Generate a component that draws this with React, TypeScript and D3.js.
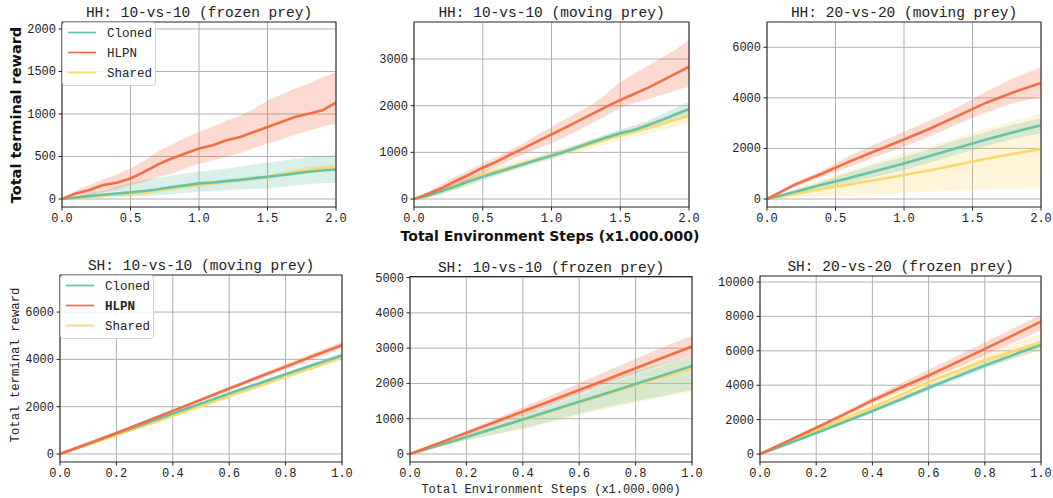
import React from 'react';
import * as d3 from 'd3';

// x samples (millions of environment steps)
const hhFrozenX = [0, 0.1, 0.2, 0.3, 0.4, 0.5, 0.6, 0.7, 0.8, 0.9, 1.0, 1.1, 1.2, 1.3, 1.4, 1.5, 1.6, 1.7, 1.8, 1.9, 2.0];
const hhMovingX = [0, 0.1, 0.2, 0.3, 0.4, 0.5, 0.6, 0.7, 0.8, 0.9, 1.0, 1.1, 1.2, 1.3, 1.4, 1.5, 1.6, 1.7, 1.8, 1.9, 2.0];
const hh20X = [0, 0.2, 0.4, 0.6, 0.8, 1.0, 1.2, 1.4, 1.6, 1.8, 2.0];
const shX = [0, 0.1, 0.2, 0.3, 0.4, 0.5, 0.6, 0.7, 0.8, 0.9, 1.0];

// HH: 10-vs-10 (frozen prey)
const p1HlpnMean = [0, 66, 105, 164, 191, 242, 320, 406, 477, 535, 594, 633, 691, 730, 789, 848, 906, 965, 1004, 1043, 1133];
const p1HlpnLo = [0, 30, 47, 80, 110, 164, 200, 260, 300, 360, 418, 450, 500, 540, 600, 652, 700, 760, 800, 850, 887];
const p1HlpnHi = [0, 100, 164, 230, 290, 360, 450, 560, 640, 720, 789, 850, 920, 980, 1060, 1160, 1230, 1300, 1360, 1430, 1492];
const p1ClonedMean = [0, 18, 35, 50, 65, 78, 95, 115, 140, 160, 184, 195, 210, 225, 245, 262, 280, 300, 320, 335, 348];
const p1ClonedLo = [0, 5, 10, 15, 20, 27, 35, 45, 60, 75, 86, 95, 105, 112, 118, 125, 140, 160, 175, 185, 191];
const p1ClonedHi = [0, 35, 70, 100, 150, 191, 220, 250, 275, 300, 320, 340, 360, 380, 405, 426, 450, 470, 490, 505, 523];
const p1SharedMean = [0, 12, 28, 42, 52, 59, 75, 100, 125, 148, 164, 182, 205, 220, 238, 255, 290, 320, 345, 360, 379];
const p1SharedLo = [0, 2, 12, 25, 35, 40, 55, 78, 102, 125, 140, 158, 180, 195, 212, 228, 262, 290, 315, 330, 345];
const p1SharedHi = [0, 25, 45, 62, 75, 85, 100, 128, 152, 175, 192, 212, 236, 250, 270, 288, 322, 352, 378, 395, 415];

// HH: 10-vs-10 (moving prey)
const p2HlpnMean = [0, 110, 230, 380, 520, 671, 800, 950, 1090, 1240, 1386, 1530, 1680, 1830, 1980, 2121, 2250, 2380, 2530, 2680, 2836];
const p2HlpnLo = [0, 70, 150, 270, 400, 550, 690, 830, 960, 1080, 1193, 1330, 1480, 1630, 1790, 1943, 2050, 2140, 2230, 2320, 2407];
const p2HlpnHi = [0, 150, 320, 480, 620, 764, 900, 1050, 1200, 1380, 1550, 1710, 1870, 2030, 2260, 2514, 2680, 2850, 3020, 3200, 3407];
const p2ClonedMean = [0, 70, 170, 270, 380, 479, 570, 660, 750, 840, 929, 1020, 1120, 1220, 1320, 1407, 1480, 1580, 1690, 1810, 1929];
const p2ClonedLo = [0, 30, 110, 200, 300, 399, 500, 600, 690, 780, 869, 960, 1060, 1150, 1250, 1327, 1390, 1480, 1570, 1670, 1769];
const p2ClonedHi = [0, 110, 230, 340, 460, 559, 640, 720, 810, 900, 989, 1080, 1180, 1290, 1390, 1487, 1570, 1680, 1810, 1950, 2089];
const p2SharedMean = [0, 70, 170, 270, 375, 514, 600, 680, 770, 850, 929, 1010, 1100, 1190, 1280, 1371, 1450, 1530, 1610, 1700, 1779];
const p2SharedLo = [0, 30, 110, 190, 285, 424, 510, 590, 680, 760, 839, 920, 1010, 1090, 1180, 1261, 1330, 1400, 1470, 1550, 1619];
const p2SharedHi = [0, 110, 230, 350, 465, 604, 690, 770, 860, 940, 1019, 1100, 1190, 1290, 1380, 1481, 1570, 1660, 1750, 1850, 1939];

// HH: 20-vs-20 (moving prey)
const p3HlpnMean = [0, 560, 1000, 1480, 1920, 2355, 2810, 3310, 3810, 4220, 4592];
const p3HlpnLo = [0, 470, 880, 1270, 1680, 2066, 2500, 2980, 3420, 3800, 4039];
const p3HlpnHi = [0, 650, 1130, 1700, 2200, 2658, 3130, 3650, 4250, 4780, 5224];
const p3ClonedMean = [0, 280, 560, 830, 1120, 1408, 1720, 2040, 2350, 2640, 2921];
const p3ClonedLo = [0, 220, 430, 650, 890, 1145, 1450, 1780, 2100, 2380, 2592];
const p3ClonedHi = [0, 350, 700, 1050, 1380, 1671, 2000, 2350, 2650, 2950, 3184];
const p3SharedMean = [0, 200, 400, 580, 760, 947, 1150, 1370, 1590, 1790, 1974];
const p3SharedLo = [0, 60, 120, 150, 180, 250, 290, 340, 370, 400, 421];
const p3SharedHi = [0, 380, 800, 1100, 1450, 1803, 2100, 2450, 2780, 3080, 3382];

// SH: 10-vs-10 (moving prey)
const p4HlpnMean = [0, 440, 889, 1350, 1821, 2290, 2767, 3230, 3690, 4150, 4601];
const p4HlpnLo = [0, 410, 849, 1300, 1761, 2220, 2687, 3140, 3580, 4020, 4461];
const p4HlpnHi = [0, 470, 929, 1400, 1881, 2360, 2847, 3320, 3800, 4280, 4741];
const p4ClonedMean = [0, 420, 861, 1280, 1708, 2130, 2555, 2960, 3370, 3770, 4164];
const p4ClonedLo = [0, 390, 821, 1230, 1648, 2070, 2485, 2880, 3280, 3670, 4054];
const p4ClonedHi = [0, 450, 901, 1330, 1768, 2190, 2625, 3040, 3460, 3870, 4274];
const p4SharedMean = [0, 390, 790, 1200, 1620, 2030, 2442, 2850, 3260, 3670, 4079];
const p4SharedLo = [0, 360, 750, 1150, 1560, 1970, 2372, 2770, 3170, 3570, 3969];
const p4SharedHi = [0, 420, 830, 1250, 1680, 2090, 2512, 2930, 3350, 3770, 4189];

// SH: 10-vs-10 (frozen prey)
const p5HlpnMean = [0, 300, 598, 900, 1205, 1510, 1812, 2120, 2429, 2740, 3046];
const p5HlpnLo = [0, 270, 540, 820, 1100, 1400, 1717, 2010, 2290, 2550, 2780];
const p5HlpnHi = [0, 330, 660, 990, 1320, 1650, 2002, 2350, 2700, 3030, 3349];
const p5ClonedMean = [0, 240, 484, 730, 977, 1230, 1480, 1730, 1983, 2240, 2495];
const p5ClonedLo = [0, 200, 400, 560, 721, 930, 1148, 1330, 1500, 1650, 1812];
const p5ClonedHi = [0, 270, 560, 850, 1130, 1450, 1812, 2100, 2350, 2580, 2780];
const p5SharedMean = [0, 235, 475, 720, 965, 1210, 1460, 1700, 1950, 2190, 2429];
const p5SharedLo = [0, 190, 380, 540, 700, 900, 1100, 1280, 1450, 1620, 1765];
const p5SharedHi = [0, 260, 530, 800, 1080, 1360, 1650, 1940, 2230, 2500, 2750];

// SH: 20-vs-20 (frozen prey)
const p6HlpnMean = [0, 760, 1528, 2300, 3114, 3850, 4565, 5330, 6112, 6900, 7698];
const p6HlpnLo = [0, 720, 1450, 2200, 2950, 3650, 4350, 5050, 5750, 6450, 7176];
const p6HlpnHi = [0, 800, 1620, 2450, 3300, 4100, 4900, 5700, 6500, 7300, 8104];
const p6ClonedMean = [0, 600, 1219, 1860, 2500, 3170, 3849, 4500, 5150, 5750, 6344];
const p6ClonedLo = [0, 540, 1139, 1760, 2380, 3030, 3689, 4320, 4950, 5520, 6084];
const p6ClonedHi = [0, 660, 1299, 1960, 2620, 3310, 4009, 4680, 5350, 5980, 6604];
const p6SharedMean = [0, 680, 1373, 2050, 2700, 3420, 4178, 4800, 5450, 5980, 6499];
const p6SharedLo = [0, 600, 1253, 1890, 2500, 3170, 3878, 4450, 5050, 5530, 5999];
const p6SharedHi = [0, 760, 1493, 2210, 2900, 3670, 4478, 5150, 5850, 6430, 6999];

const seriesNames = ['Cloned', 'HLPN', 'Shared'];
const colors: Record<string, string> = { Cloned: '#66c2a5', HLPN: '#f46d43', Shared: '#fdd86a' };

const hhXTicks = [0, 0.5, 1.0, 1.5, 2.0];
const shXTicks = [0, 0.2, 0.4, 0.6, 0.8, 1.0];

const mono = '"Liberation Mono", "DejaVu Sans Mono", monospace';
const sans = '"DejaVu Sans", sans-serif';

type Series = { name: string; mean: number[]; lo: number[]; hi: number[] };

const panels = [
  {
    title: 'HH: 10-vs-10 (frozen prey)', x: hhFrozenX, xMax: 2, xTicks: hhXTicks,
    yDomain: [-94, 2082], yTicks: [0, 500, 1000, 1500, 2000],
    box: [62, 22, 336, 207], legend: true, bold: false,
    series: [
      { name: 'Cloned', mean: p1ClonedMean, lo: p1ClonedLo, hi: p1ClonedHi },
      { name: 'HLPN', mean: p1HlpnMean, lo: p1HlpnLo, hi: p1HlpnHi },
      { name: 'Shared', mean: p1SharedMean, lo: p1SharedLo, hi: p1SharedHi },
    ],
  },
  {
    title: 'HH: 10-vs-10 (moving prey)', x: hhMovingX, xMax: 2, xTicks: hhXTicks,
    yDomain: [-171, 3793], yTicks: [0, 1000, 2000, 3000],
    box: [414, 22, 689, 207],
    series: [
      { name: 'Cloned', mean: p2ClonedMean, lo: p2ClonedLo, hi: p2ClonedHi },
      { name: 'HLPN', mean: p2HlpnMean, lo: p2HlpnLo, hi: p2HlpnHi },
      { name: 'Shared', mean: p2SharedMean, lo: p2SharedLo, hi: p2SharedHi },
    ],
  },
  {
    title: 'HH: 20-vs-20 (moving prey)', x: hh20X, xMax: 2, xTicks: hhXTicks,
    yDomain: [-316, 7000], yTicks: [0, 2000, 4000, 6000],
    box: [767, 22, 1041, 207],
    series: [
      { name: 'Cloned', mean: p3ClonedMean, lo: p3ClonedLo, hi: p3ClonedHi },
      { name: 'HLPN', mean: p3HlpnMean, lo: p3HlpnLo, hi: p3HlpnHi },
      { name: 'Shared', mean: p3SharedMean, lo: p3SharedLo, hi: p3SharedHi },
    ],
  },
  {
    title: 'SH: 10-vs-10 (moving prey)', x: shX, xMax: 1, xTicks: shXTicks,
    yDomain: [-339, 7567], yTicks: [0, 2000, 4000, 6000],
    box: [60, 275, 342, 462], legend: true, bold: true,
    series: [
      { name: 'Cloned', mean: p4ClonedMean, lo: p4ClonedLo, hi: p4ClonedHi },
      { name: 'HLPN', mean: p4HlpnMean, lo: p4HlpnLo, hi: p4HlpnHi },
      { name: 'Shared', mean: p4SharedMean, lo: p4SharedLo, hi: p4SharedHi },
    ],
  },
  {
    title: 'SH: 10-vs-10 (frozen prey)', x: shX, xMax: 1, xTicks: shXTicks,
    yDomain: [-227, 5030], yTicks: [0, 1000, 2000, 3000, 4000, 5000],
    box: [410, 276.5, 692, 462],
    series: [
      { name: 'Cloned', mean: p5ClonedMean, lo: p5ClonedLo, hi: p5ClonedHi },
      { name: 'HLPN', mean: p5HlpnMean, lo: p5HlpnLo, hi: p5HlpnHi },
      { name: 'Shared', mean: p5SharedMean, lo: p5SharedLo, hi: p5SharedHi },
    ],
  },
  {
    title: 'SH: 20-vs-20 (frozen prey)', x: shX, xMax: 1, xTicks: shXTicks,
    yDomain: [-465, 10349], yTicks: [0, 2000, 4000, 6000, 8000, 10000],
    box: [760, 276, 1041, 462],
    series: [
      { name: 'Cloned', mean: p6ClonedMean, lo: p6ClonedLo, hi: p6ClonedHi },
      { name: 'HLPN', mean: p6HlpnMean, lo: p6HlpnLo, hi: p6HlpnHi },
      { name: 'Shared', mean: p6SharedMean, lo: p6SharedLo, hi: p6SharedHi },
    ],
  },
];

const drawOrder = ['Shared', 'Cloned', 'HLPN'];

function Panel({ p, idx }: { p: any; idx: number }) {
  const [x0, y0, x1, y1] = p.box;
  const xs = d3.scaleLinear().domain([0, p.xMax]).range([x0, x1]);
  const ys = d3.scaleLinear().domain(p.yDomain).range([y1, y0]);
  const clipId = 'clip' + idx;

  const ordered: Series[] = drawOrder.map(n => p.series.find((s: Series) => s.name === n));

  const area = (s: Series) => d3.area<number>()
    .x((_, i) => xs(p.x[i]))
    .y0((_, i) => ys(s.lo[i]))
    .y1((_, i) => ys(s.hi[i]))(s.mean);

  const line = (s: Series) => d3.line<number>()
    .x((_, i) => xs(p.x[i]))
    .y(d => ys(d))(s.mean);

  const fmtX = (v: number) => v.toFixed(1);

  return (
    <g>
      <defs>
        <clipPath id={clipId}><rect x={x0} y={y0} width={x1 - x0} height={y1 - y0} /></clipPath>
      </defs>
      <rect x={x0} y={y0} width={x1 - x0} height={y1 - y0} fill="#fff" />
      {p.xTicks.map((t: number) => (
        <line key={'gx' + t} x1={xs(t)} x2={xs(t)} y1={y0} y2={y1} stroke="#b0b0b0" strokeWidth={1} />
      ))}
      {p.yTicks.map((t: number) => (
        <line key={'gy' + t} x1={x0} x2={x1} y1={ys(t)} y2={ys(t)} stroke="#b0b0b0" strokeWidth={1} />
      ))}
      <g clipPath={`url(#${clipId})`}>
        {ordered.map(s => (
          <path key={'a' + s.name} d={area(s) || ''} fill={colors[s.name]} fillOpacity={0.25} stroke="none" />
        ))}
        {ordered.map(s => (
          <path key={'l' + s.name} d={line(s) || ''} fill="none" stroke={colors[s.name]} strokeWidth={2.6} />
        ))}
      </g>
      <rect x={x0} y={y0} width={x1 - x0} height={y1 - y0} fill="none" stroke="#222" strokeWidth={1} />
      {p.xTicks.map((t: number) => (
        <g key={'tx' + t}>
          <line x1={xs(t)} x2={xs(t)} y1={y1} y2={y1 + 3.5} stroke="#222" />
          <text x={xs(t)} y={y1 + 15} textAnchor="middle" fontFamily={mono} fontSize={12} fill="#222">{fmtX(t)}</text>
        </g>
      ))}
      {p.yTicks.map((t: number) => (
        <g key={'ty' + t}>
          <line x1={x0 - 3.5} x2={x0} y1={ys(t)} y2={ys(t)} stroke="#222" />
          <text x={x0 - 6} y={ys(t) + 4} textAnchor="end" fontFamily={mono} fontSize={12} fill="#222">{t}</text>
        </g>
      ))}
      <text x={(x0 + x1) / 2} y={y0 - 5} textAnchor="middle" fontFamily={mono} fontSize={14.5} fill="#222">{p.title}</text>
      {p.legend && (
        <g>
          <rect x={x0 + 0.5} y={y0 + 0.5} width={93} height={63} rx={3} fill="#fff" fillOpacity={0.85} stroke="#d0d0d0" />
          {seriesNames.map((n, i) => {
            const ly = y0 + 10.5 + i * 20;
            return (
              <g key={'lg' + n}>
                <line x1={x0 + 6} x2={x0 + 34} y1={ly} y2={ly} stroke={colors[n]} strokeWidth={1.7} />
                <text x={x0 + 45} y={ly + 4.5} fontFamily={mono} fontSize={12.5} fill="#222"
                  fontWeight={p.bold && n === 'HLPN' ? 'bold' : 'normal'}>{n}</text>
              </g>
            );
          })}
        </g>
      )}
    </g>
  );
}

export default function App() {
  return (
    <svg width={1053} height={498} style={{ position: 'absolute', left: 0, top: 0, background: '#fff' }}>
      {panels.map((p, i) => <Panel key={i} p={p} idx={i} />)}
      <text transform="translate(21,115) rotate(-90)" textAnchor="middle" fontFamily={sans} fontWeight="bold" fontSize={14.5} fill="#111">Total terminal reward</text>
      <text x={550} y={241} textAnchor="middle" fontFamily={sans} fontWeight="bold" fontSize={14} fill="#111">Total Environment Steps (x1.000.000)</text>
      <text transform="translate(19,365) rotate(-90)" textAnchor="middle" fontFamily={mono} fontSize={12.3} fill="#222">Total terminal reward</text>
      <text x={551} y={493} textAnchor="middle" fontFamily={mono} fontSize={12} fill="#222">Total Environment Steps (x1.000.000)</text>
    </svg>
  );
}
